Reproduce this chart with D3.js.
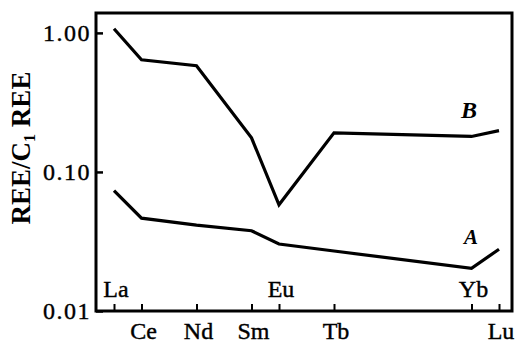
<!DOCTYPE html>
<html><head><meta charset="utf-8">
<script src="https://cdn.jsdelivr.net/npm/d3@7"></script>
<style>html,body{margin:0;padding:0;background:#fff;}svg{display:block;}</style>
</head><body>
<svg id="chart" width="517" height="344"></svg>
<script>
const elements = ["La","Ce","Nd","Sm","Eu","Tb","Yb","Lu"];
const atomicNumbers = [57,58,60,62,63,65,70,71];
const seriesB = [1.07,0.64,0.58,0.176,0.058,0.191,0.18,0.198];
const seriesA = [0.0733,0.0465,0.0414,0.0378,0.0303,0.027,0.0203,0.0278];
const yTicks = [0.01,0.10,1.00];
const yTickLabels = ["0.01","0.10","1.00"];
const insideLabels = ["La","Eu","Yb"];

const svg = d3.select("#chart");
const L=96, R=512, T=13, B=311;
const x = d3.scaleLinear().domain([57,71]).range([114,499]);
const y = d3.scaleLog().domain([0.01,1.39]).range([B,T]);
const serif = "'Liberation Serif','DejaVu Serif',serif";

// frame
svg.append("rect").attr("x",L).attr("y",T).attr("width",R-L).attr("height",B-T)
  .attr("fill","none").attr("stroke","#000").attr("stroke-width",3);

// y ticks (inward)
const yAxis = d3.axisRight(y).tickValues(yTicks).tickSize(7).tickFormat("");
const gy = svg.append("g").attr("transform",`translate(${L},0)`).call(yAxis);
gy.select(".domain").remove();
gy.selectAll("line").attr("stroke","#000").attr("stroke-width",2.5);
svg.selectAll(".ylab").data(yTicks).join("text")
  .attr("x",91).attr("y",d=>y(d)+8)
  .attr("text-anchor","end").attr("font-family",serif).attr("font-size",24)
  .attr("letter-spacing",1.5).attr("fill","#000")
  .attr("stroke","#000").attr("stroke-width",0.4)
  .text((d,i)=>yTickLabels[i]);

// x ticks (inward)
const xAxis = d3.axisTop(x).tickValues(atomicNumbers).tickSize(7).tickFormat("");
const gx = svg.append("g").attr("transform",`translate(0,${B})`).call(xAxis);
gx.select(".domain").remove();
gx.selectAll("line").attr("stroke","#000").attr("stroke-width",2);

svg.selectAll(".xlab").data(elements).join("text")
  .attr("x",(d,i)=>x(atomicNumbers[i])+2)
  .attr("y",d=>insideLabels.includes(d)?297:339)
  .attr("text-anchor","middle").attr("font-family",serif).attr("font-size",24)
  .attr("fill","#000").attr("stroke","#000").attr("stroke-width",0.4)
  .text(d=>d);

// y title
const yt = svg.append("text")
  .attr("transform","translate(30,148) rotate(-90)")
  .attr("text-anchor","middle").attr("font-family",serif)
  .attr("font-size",27).attr("font-weight","bold").attr("fill","#000");
yt.append("tspan").text("REE/C");
yt.append("tspan").attr("font-size",16).attr("dy",5).text("1");
yt.append("tspan").attr("dy",-5).text(" REE");

// lines
const line = d3.line().x((d,i)=>x(atomicNumbers[i])).y(d=>y(d));
[seriesB, seriesA].forEach(s=>{
  svg.append("path").datum(s).attr("d",line).attr("fill","none")
    .attr("stroke","#000").attr("stroke-width",3.2).attr("stroke-linejoin","miter");
});

// series labels
svg.append("text").attr("x",469).attr("y",118).attr("text-anchor","middle")
  .attr("font-family",serif).attr("font-size",24).attr("font-weight","bold")
  .attr("font-style","italic").text("B");
svg.append("text").attr("x",471).attr("y",244).attr("text-anchor","middle")
  .attr("font-family",serif).attr("font-size",21).attr("font-weight","bold")
  .attr("font-style","italic").text("A");
</script>
</body></html>
